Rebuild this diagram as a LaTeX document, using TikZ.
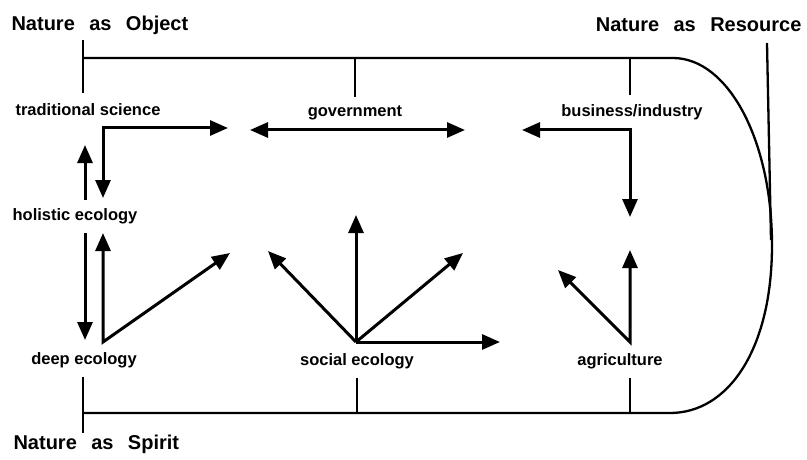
\documentclass[tikz,border=0pt]{standalone}
\usepackage{fontspec}
\setmainfont{Liberation Sans}
\newfontfamily\headfam[WordSpace=2.6]{Liberation Sans}
\usetikzlibrary{arrows.meta}

\begin{document}
\begin{tikzpicture}[x=1pt,y=-1pt,
	arr/.style={line width=3pt,-{Triangle[length=18pt,width=15pt]}},
	arrs/.style={line width=3pt,{Triangle[length=18pt,width=15pt]}-{Triangle[length=18pt,width=15pt]}},
	frame/.style={line width=2.3pt},
	head/.style={font=\headfam\bfseries\fontsize{20}{24}\selectfont},
	lbl/.style={font=\bfseries\fontsize{16.5}{20}\selectfont}]
	\useasboundingbox (0,0) rectangle (807,460);
	% headings
	\node[head,anchor=west] (obj) at (8,25) {Nature as Object};
	\node[head,anchor=east] (res) at (805,25) {Nature as Resource};
	\node[head,anchor=west] (spi) at (10,444) {Nature as Spirit};
	% labels
	\node[lbl] (trad) at (88,110) {traditional science};
	\node[lbl] (gov) at (355,113) {government};
	\node[lbl] (bus) at (632,112) {business/industry};
	\node[lbl] (hol) at (75,216) {holistic ecology};
	\node[lbl] (deep) at (84,360) {deep ecology};
	\node[lbl] (soc) at (357,361) {social ecology};
	\node[lbl] (agr) at (620,361) {agriculture};
	% frame
	\coordinate (tl) at (83,58);
	\coordinate (tr) at (673,58);
	\coordinate (bl) at (83,413);
	\coordinate (br) at (670,413);
	\draw[frame] (83,40) -- (83,93);
	\draw[frame] (83,377) -- (83,433);
	\draw[frame] (tl) -- (tr) .. controls (728,58) and (772,140) .. (772,245)
		.. controls (772,350) and (728,413) .. (br) -- (bl);
	\draw[frame] (355,58) -- (355,97);
	\draw[frame] (630,58) -- (630,95);
	\draw[frame] (357,378) -- (357,413);
	\draw[frame] (630,378) -- (630,413);
	\draw[frame] (767,43) -- (771,240);
	% left column
	\coordinate (tc) at (103,128);
	\coordinate (dc) at (103,342);
	\draw[arrs] (228,128) -- (tc) -- (103,198);
	\draw[arr] (85,200) -- (85,145);
	\draw[arr] (85,233) -- (85,340);
	\draw[arrs] (103,233) -- (dc) -- (230,253);
	% government
	\draw[arrs] (250,130) -- (465,130);
	% business
	\coordinate (bc) at (630,130);
	\draw[arrs] (522,130) -- (bc) -- (630,217);
	% social ecology
	\coordinate (sc) at (356,342);
	\draw[arr] (sc) -- (356,215);
	\draw[arr] (sc) -- (268,251);
	\draw[arr] (sc) -- (463,253);
	\draw[arr] (sc) -- (500,342);
	% agriculture
	\coordinate (ac) at (630,342);
	\draw[arrs] (630,250) -- (ac) -- (558,270);
\end{tikzpicture}
\end{document}
